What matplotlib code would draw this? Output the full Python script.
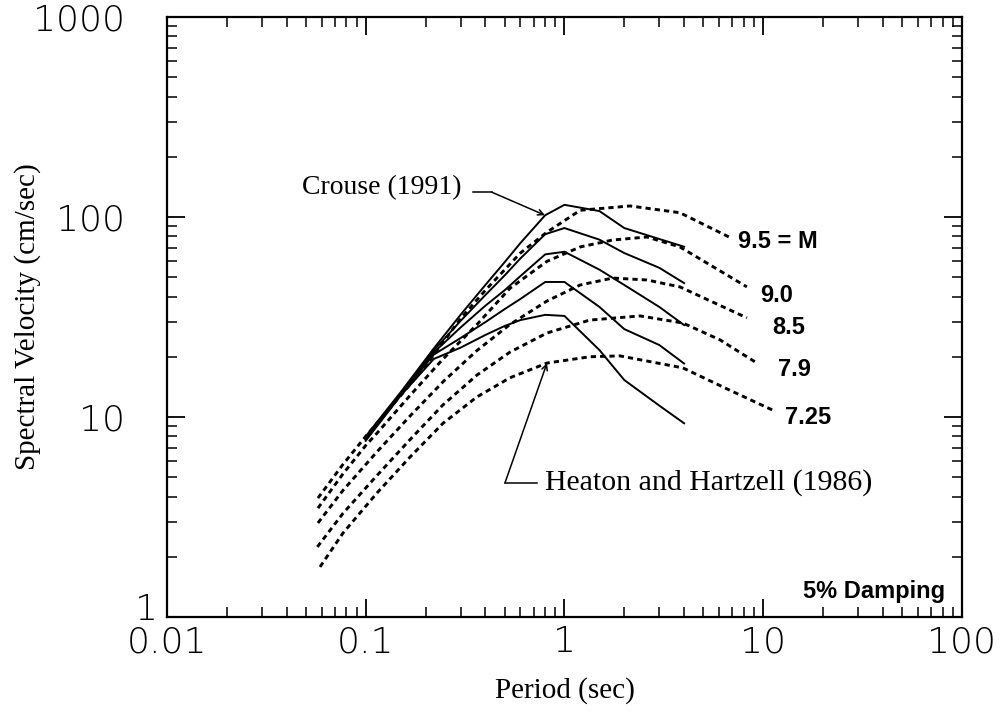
import matplotlib
matplotlib.use("Agg")
import matplotlib.pyplot as plt
from matplotlib.ticker import LogLocator, NullFormatter, FixedLocator, FixedFormatter

# --- Datos ---
# Crouse (1991), curvas continuas, M = 9.5, 9.0, 8.5, 7.9, 7.25
crouse_T = [0.1, 0.15, 0.22, 0.3, 0.4, 0.5, 0.6, 0.8, 1.0, 1.5, 2.0, 3.0, 4.0]
crouse_95 = [8.0, 13.3, 22.0, 32.4, 45.7, 59.4, 74.0, 102.0, 115.0, 107.0, 88.0, 77.6, 71.0]
crouse_90 = [7.9, 13.1, 21.5, 30.2, 40.7, 51.0, 62.0, 82.0, 88.0, 77.0, 66.0, 55.7, 46.7]
crouse_85 = [7.8, 13.0, 21.0, 28.0, 36.0, 43.0, 50.6, 65.0, 67.0, 54.5, 45.7, 35.5, 28.8]
crouse_79 = [7.7, 12.9, 20.5, 24.8, 29.8, 34.6, 38.9, 47.3, 47.3, 35.5, 27.5, 22.9, 18.5]
crouse_725 = [7.6, 12.8, 19.5, 22.2, 25.7, 28.5, 30.5, 32.4, 32.0, 21.6, 15.3, 11.4, 9.3]

# Heaton and Hartzell (1986), curvas discontinuas
hh95_T = [0.0575, 0.0769, 0.1, 0.15, 0.2, 0.3, 0.4, 0.6, 0.817, 1.2, 2.14, 3.81, 6.8]
hh95_V = [3.93, 5.8, 8.0, 12.8, 18.0, 31.0, 43.0, 66.0, 84.0, 108.0, 113.5, 105.0, 79.0]
hh90_T = [0.0575, 0.0769, 0.1, 0.114, 0.167, 0.245, 0.363, 0.532, 0.817, 1.2, 1.75, 2.6, 3.81, 8.28]
hh90_V = [3.5, 5.2, 7.2, 8.3, 12.8, 19.5, 29.0, 44.0, 60.0, 70.8, 76.7, 79.4, 70.8, 44.7]
hh85_T = [0.0575, 0.0769, 0.114, 0.167, 0.245, 0.363, 0.532, 0.817, 1.2, 1.75, 2.6, 3.81, 8.28]
hh85_V = [2.95, 4.3, 6.7, 10.1, 15.0, 21.5, 29.0, 38.0, 45.7, 49.5, 48.4, 44.7, 31.3]
hh79_T = [0.0571, 0.0769, 0.114, 0.167, 0.245, 0.363, 0.532, 0.817, 1.34, 2.4, 3.94, 6.06, 9.3]
hh79_V = [2.24, 3.3, 5.1, 7.7, 11.5, 16.2, 21.1, 26.3, 30.5, 32.0, 29.5, 24.3, 18.6]
hh725_T = [0.0589, 0.0769, 0.114, 0.167, 0.245, 0.363, 0.532, 0.817, 1.34, 1.9, 3.94, 6.8, 11.2]
hh725_V = [1.78, 2.63, 4.17, 6.3, 9.3, 12.6, 15.7, 18.6, 20.0, 20.2, 17.6, 13.6, 10.8]

mag_labels = ["9.5 = M", "9.0", "8.5", "7.9", "7.25"]

# --- Figura ---
fig = plt.figure(figsize=(10.04, 7.15), dpi=100)
ax = fig.add_axes([0.1663, 0.1371, 0.7918, 0.8392])
ax.set_xscale("log")
ax.set_yscale("log")
ax.set_xlim(0.01, 100)
ax.set_ylim(1, 1000)

for v in [crouse_95, crouse_90, crouse_85, crouse_79, crouse_725]:
    ax.plot(crouse_T, v, color="black", lw=1.4, solid_joinstyle="round")

dash = (0, (1.8, 1.4))
for t, v in [(hh95_T, hh95_V), (hh90_T, hh90_V), (hh85_T, hh85_V),
             (hh79_T, hh79_V), (hh725_T, hh725_V)]:
    ax.plot(t, v, color="black", lw=2.1, linestyle=dash)

# etiquetas de magnitud
lab_pos = [(7.46, 75), (9.64, 40.7), (11.1, 27.9), (11.9, 17.2), (12.85, 9.9)]
for txt, (x, y) in zip(mag_labels, lab_pos):
    ax.text(x, y, txt, fontsize=17, fontweight="bold", family="Liberation Sans",
            ha="left", va="center")

ax.text(0.979, 0.042, "5% Damping", transform=ax.transAxes, fontsize=17,
        fontweight="bold", family="Liberation Sans", ha="right", va="center")

# anotaciones
serif = "Liberation Serif"
ax.text(0.305, 140, "Crouse (1991)", fontsize=20, family=serif, ha="right", va="center")
ax.plot([0.347, 0.431], [133, 133], color="black", lw=1.1)
ax.annotate("", xy=(0.798, 102), xytext=(0.431, 133),
            arrowprops=dict(arrowstyle="->", color="black", lw=1.1, shrinkA=0, shrinkB=0))

ax.text(0.798, 4.68, "Heaton and Hartzell (1986)", fontsize=21.5, family=serif,
        ha="left", va="center")
ax.plot([0.728, 0.502], [4.68, 4.68], color="black", lw=1.1)
ax.annotate("", xy=(0.817, 18.6), xytext=(0.502, 4.68),
            arrowprops=dict(arrowstyle="->", color="black", lw=1.1, shrinkA=0, shrinkB=0))

# ejes
for s in ax.spines.values():
    s.set_linewidth(1.6)
ax.xaxis.set_major_locator(FixedLocator([0.01, 0.1, 1, 10, 100]))
ax.xaxis.set_major_formatter(FixedFormatter(["0.01", "0.1", "1", "10", "100"]))
ax.yaxis.set_major_locator(FixedLocator([1, 10, 100, 1000]))
ax.yaxis.set_major_formatter(FixedFormatter(["", "10", "100", "1000"]))
for a in (ax.xaxis, ax.yaxis):
    a.set_minor_locator(LogLocator(base=10, subs=range(2, 10)))
    a.set_minor_formatter(NullFormatter())
ax.tick_params(which="both", direction="in", top=True, right=True)
ax.tick_params(which="major", length=13, width=1.3)
ax.tick_params(which="minor", length=7, width=1.1)
ax.tick_params(axis="x", which="major", pad=6, labelsize=26)
ax.tick_params(axis="y", which="major", pad=30, labelsize=26)
for lbl in ax.get_xticklabels() + ax.get_yticklabels():
    lbl.set_family("DejaVu Sans")
    lbl.set_fontweight("light")
ax.text(-0.011, 0.012, "1", transform=ax.transAxes, fontsize=26, family="DejaVu Sans",
        fontweight="light", ha="right", va="center")

ax.set_xlabel("Period (sec)", fontsize=21, family=serif)
ax.set_ylabel("Spectral Velocity (cm/sec)", fontsize=21, family=serif)
ax.xaxis.set_label_coords(0.5, -0.1)
ax.yaxis.set_label_coords(-0.158, 0.5)

fig.savefig("out.png", dpi=100)
